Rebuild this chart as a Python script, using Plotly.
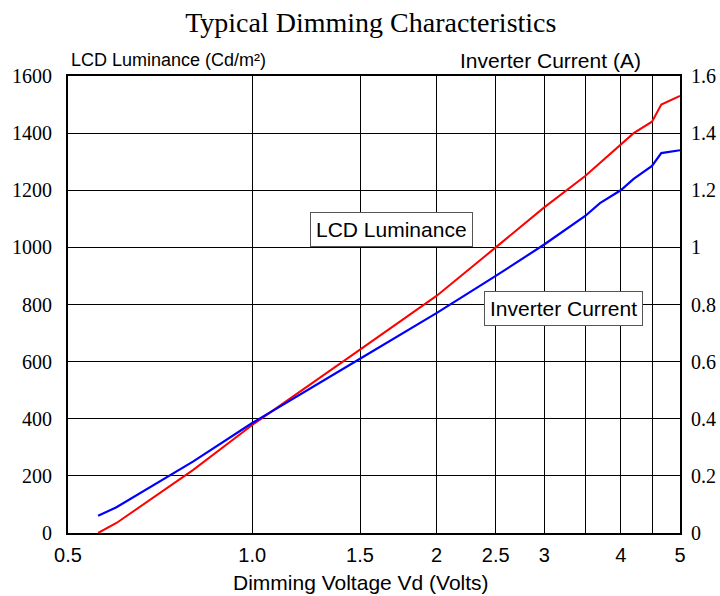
import plotly.graph_objects as go

# Data
voltage = [0.56, 0.60, 0.80, 1.0, 1.5, 2.0, 2.5, 3.0, 3.5, 3.7, 4.0, 4.2, 4.5, 4.66, 5.0]
luminance = [0, 35, 220, 378, 642, 830, 1000, 1140, 1250, 1295, 1360, 1400, 1440, 1500, 1530]
current = [0.06, 0.09, 0.25, 0.385, 0.61, 0.77, 0.90, 1.01, 1.11, 1.155, 1.20, 1.24, 1.285, 1.33, 1.34]

x_tickvals = [0.5, 1.0, 1.5, 2, 2.5, 3, 3.5, 4, 4.5, 5]
x_ticktext = ["0.5", "1.0", "1.5", "2", "2.5", "3", "", "4", "", "5"]
y_tickvals = [0, 200, 400, 600, 800, 1000, 1200, 1400, 1600]
y2_tickvals = [0, 0.2, 0.4, 0.6, 0.8, 1.0, 1.2, 1.4, 1.6]
y2_ticktext = ["0", "0.2", "0.4", "0.6", "0.8", "1", "1.2", "1.4", "1.6"]

fig = go.Figure()
fig.add_trace(go.Scatter(x=voltage, y=luminance, mode="lines", name="LCD Luminance",
                         line=dict(color="#ff0000", width=2), yaxis="y"))
fig.add_trace(go.Scatter(x=voltage, y=current, mode="lines", name="Inverter Current",
                         line=dict(color="#0000ff", width=2.2), yaxis="y2"))

serif = "Liberation Serif, Times New Roman, serif"
sans = "Liberation Sans, Arial, sans-serif"

fig.update_layout(
    width=720, height=596,
    margin=dict(l=68, r=40, t=76, b=63, autoexpand=False),
    paper_bgcolor="white", plot_bgcolor="white",
    showlegend=False,
    title=dict(text="Typical Dimming Characteristics", x=0.515, xanchor="center",
               y=0.963, yanchor="middle",
               font=dict(family=serif, size=28, color="black")),
    xaxis=dict(type="log", range=[0.69897 - 1, 0.69897], tickvals=x_tickvals, ticktext=x_ticktext,
               showgrid=True, gridcolor="black", gridwidth=1,
               showline=True, linecolor="black", linewidth=1.8, mirror=True,
               ticks="", tickfont=dict(family=sans, size=20, color="black"),
               ticklabelstandoff=3, zeroline=False, automargin=False),
    yaxis=dict(range=[0, 1600], tickvals=y_tickvals,
               showgrid=True, gridcolor="black", gridwidth=1,
               showline=True, linecolor="black", linewidth=1.8, mirror=True,
               ticks="", tickfont=dict(family=serif, size=20, color="black"),
               ticklabelstandoff=10, zeroline=False, automargin=False),
    yaxis2=dict(range=[0, 1.6], tickvals=y2_tickvals, ticktext=y2_ticktext,
                overlaying="y", side="right", showgrid=False,
                ticks="", tickfont=dict(family=serif, size=20, color="black"),
                ticklabelstandoff=10, zeroline=False, automargin=False),
    annotations=[
        dict(text="LCD Luminance (Cd/m²)", xref="paper", yref="paper", x=0.0016, y=1.035,
             xanchor="left", yanchor="middle", showarrow=False,
             font=dict(family=sans, size=18, color="black")),
        dict(text="Inverter Current (A)", xref="paper", yref="paper", x=0.94, y=1.035,
             xanchor="right", yanchor="middle", showarrow=False,
             font=dict(family=sans, size=21, color="black")),
        dict(text="Dimming Voltage Vd (Volts)", xref="paper", yref="paper", x=0.479, y=-0.109,
             xanchor="center", yanchor="middle", showarrow=False,
             font=dict(family=sans, size=21, color="black")),
        dict(text="LCD Luminance", xref="paper", yref="paper", x=0.528, y=0.665,
             xanchor="center", yanchor="middle", showarrow=False,
             bgcolor="white", bordercolor="#555555", borderwidth=1, borderpad=5,
             font=dict(family=sans, size=21, color="black")),
        dict(text="Inverter Current", xref="paper", yref="paper", x=0.81, y=0.492,
             xanchor="center", yanchor="middle", showarrow=False,
             bgcolor="white", bordercolor="#555555", borderwidth=1, borderpad=5,
             font=dict(family=sans, size=21, color="black")),
    ],
)

fig.write_html("out.html", config={"displayModeBar": False},
               post_script="document.body.style.margin='0';document.body.style.overflow='hidden';")
